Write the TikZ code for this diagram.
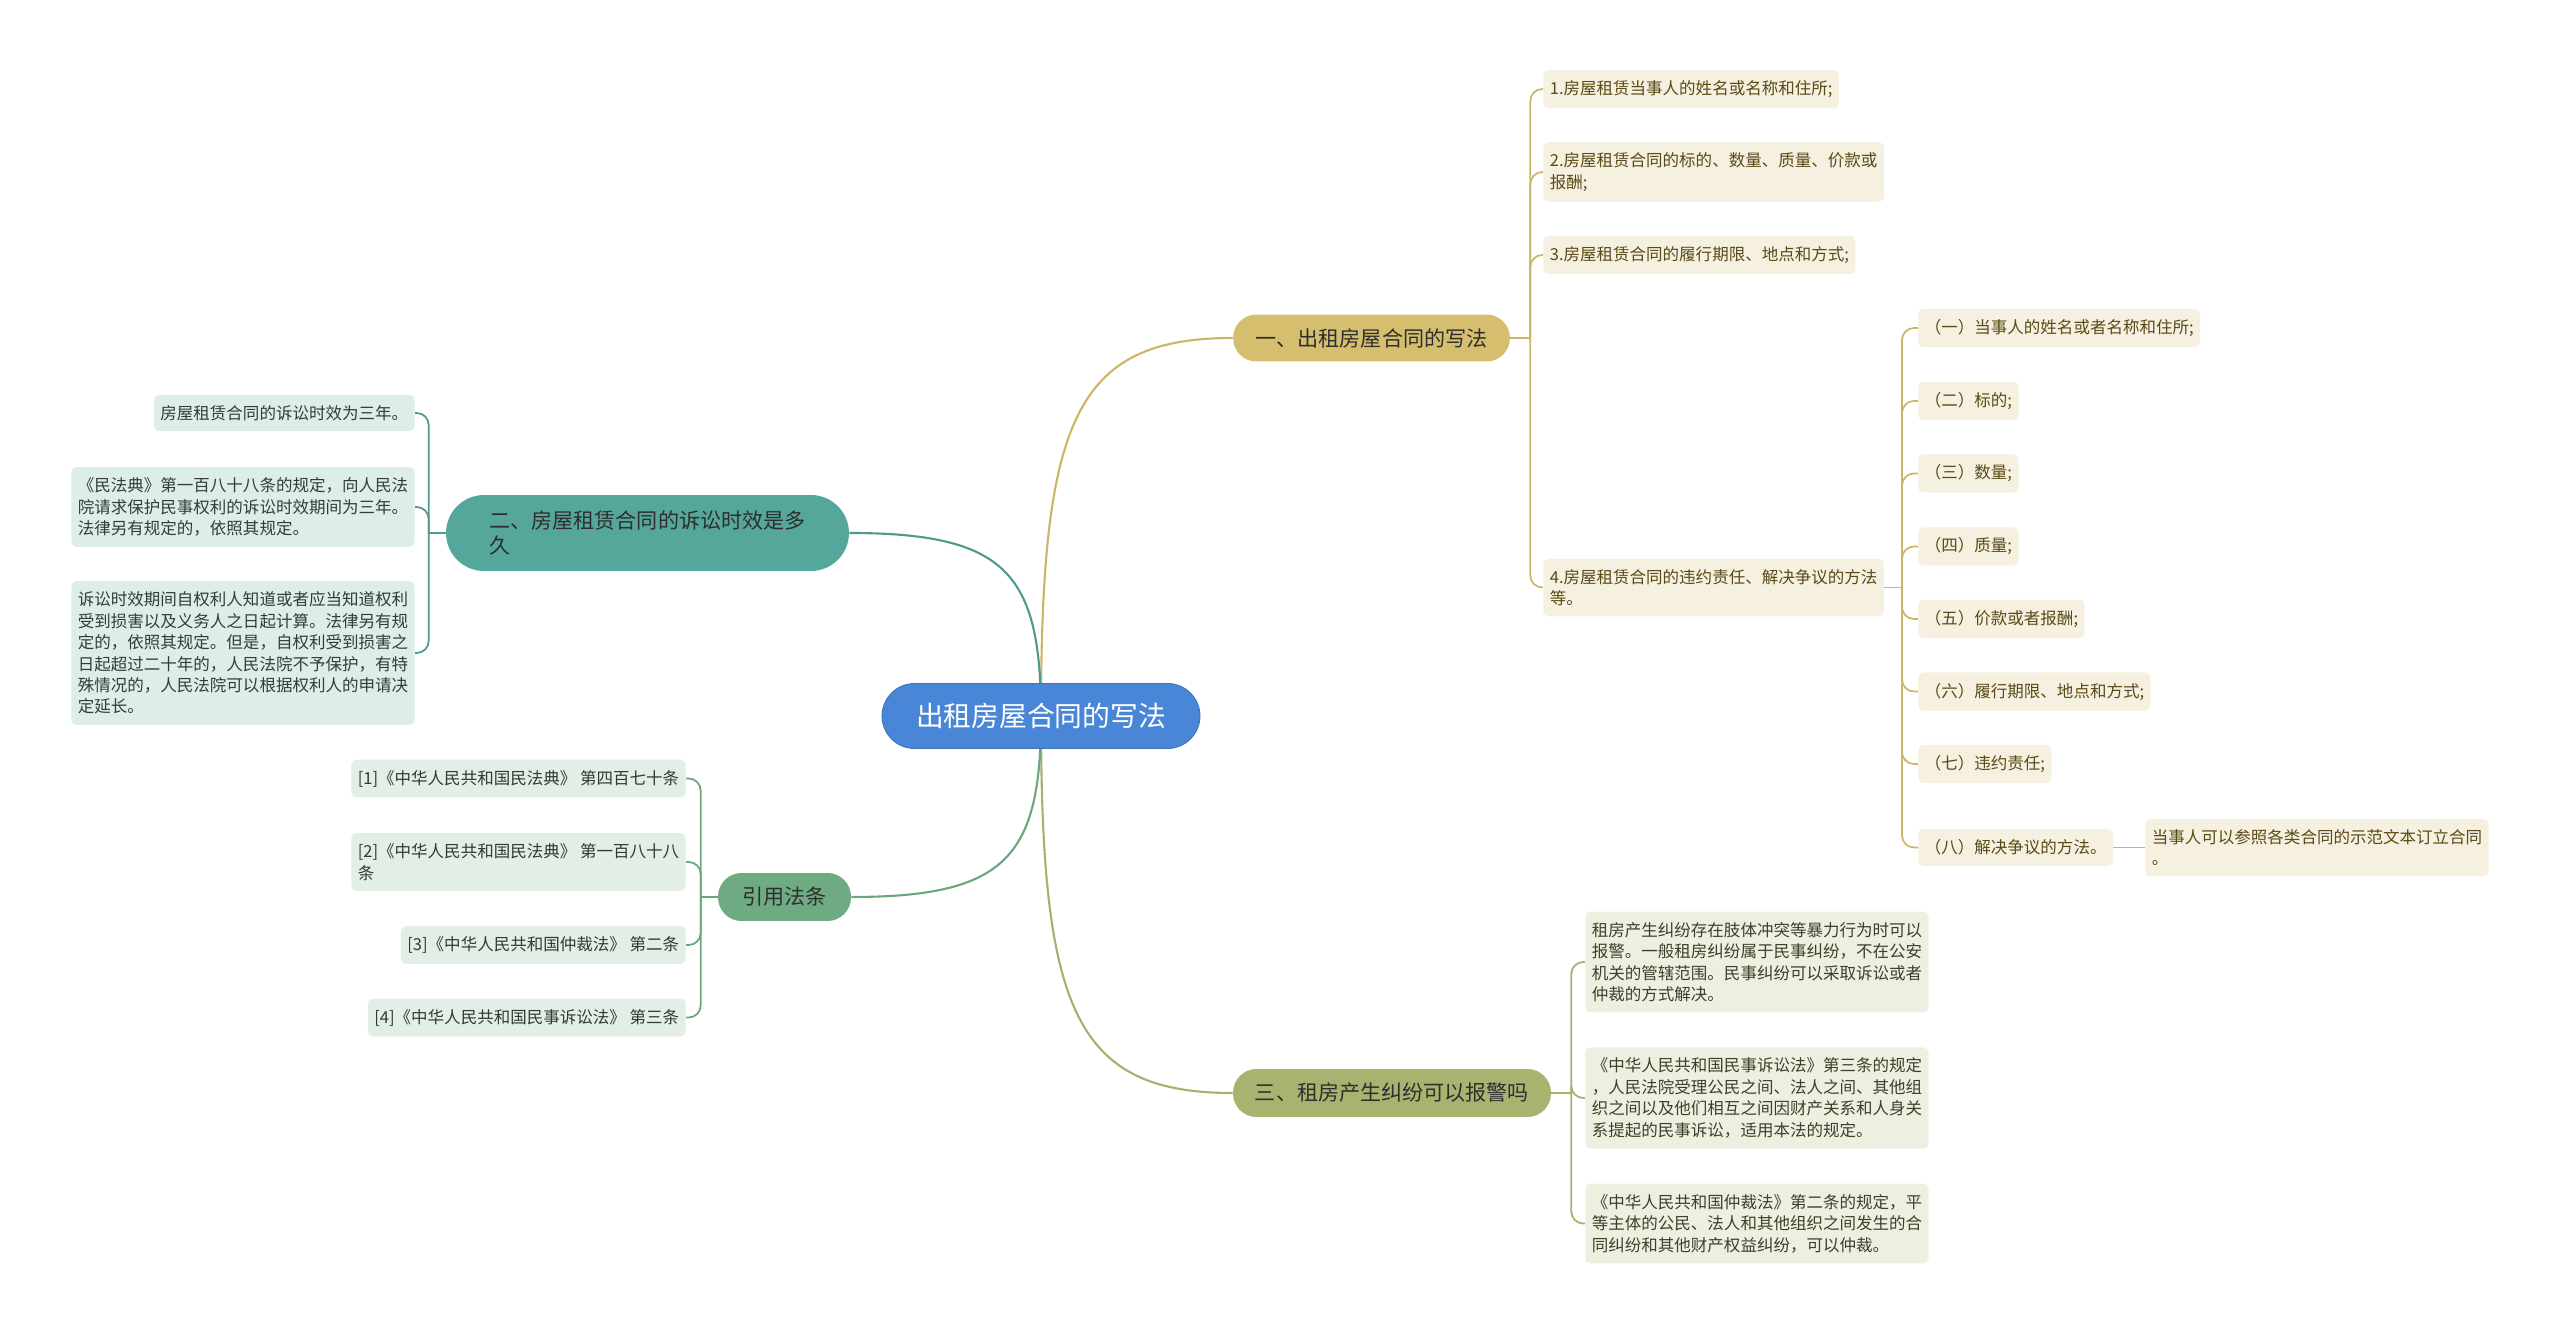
\documentclass[tikz,border=0pt]{standalone}
\usepackage{fontspec}
\setmainfont{Noto Sans CJK SC}
\usepackage{tikz}
\usetikzlibrary{positioning,backgrounds}

\definecolor{rootblue}{HTML}{4A86D8}
\definecolor{goldtopic}{HTML}{D5BE6E}
\definecolor{goldline}{HTML}{CDB568}
\definecolor{goldpale}{HTML}{F5F0DF}
\definecolor{goldtext}{HTML}{5A4A17}
\definecolor{tealtopic}{HTML}{55A69B}
\definecolor{tealline}{HTML}{4E9A8F}
\definecolor{tealpale}{HTML}{DDEDEA}
\definecolor{tealtext}{HTML}{2F3E3B}
\definecolor{olivetopic}{HTML}{A8B370}
\definecolor{oliveline}{HTML}{A6B16D}
\definecolor{olivepale}{HTML}{EDF0E1}
\definecolor{olivetext}{HTML}{3B4127}
\definecolor{greentopic}{HTML}{6FAB82}
\definecolor{greenline}{HTML}{6BA67E}
\definecolor{greenpale}{HTML}{E2EEE6}
\definecolor{greentext}{HTML}{2F3A33}

\begin{document}
\begin{tikzpicture}[
    x=0.02cm, y=-0.02cm,
    root/.style={rectangle, fill=rootblue, draw=rootblue!85!black, line width=0.5pt, rounded corners=0.65cm, minimum width=6.36cm, minimum height=1.3cm, text=white, font=\fontsize{15.8}{19}\selectfont},
    topic/.style={rectangle, rounded corners=0.47cm, minimum height=0.94cm, align=left, text=black!82, font=\fontsize{12}{14.2}\selectfont},
    leaf/.style={rectangle, rounded corners=0.1cm, minimum height=0.72cm, inner xsep=0.13cm, inner ysep=0.21cm, align=left, font=\fontsize{9.4}{12.2}\selectfont},
    goldleaf/.style={leaf, fill=goldpale, text=goldtext},
    tealleaf/.style={leaf, fill=tealpale, text=tealtext},
    oliveleaf/.style={leaf, fill=olivepale, text=olivetext},
    greenleaf/.style={leaf, fill=greenpale, text=greentext},
    link/.style={line width=1.2pt},
    bracket/.style={line width=1.0pt, rounded corners=0.24cm}
]

\useasboundingbox (0,0) rectangle (2560,1334);

% Root
\node[root] (root) at (1041,716) {出租房屋合同的写法};

% Main topics
\node[topic, fill=goldtopic, minimum width=5.54cm] (write) at (1371.5,338) {一、出租房屋合同的写法};
\node[topic, fill=tealtopic, minimum width=8.06cm, minimum height=1.52cm, rounded corners=0.76cm] (term) at (647.5,533) {二、房屋租赁合同的诉讼时效是多\\久};
\node[topic, fill=olivetopic, minimum width=6.36cm, minimum height=0.96cm] (police) at (1392,1093) {三、租房产生纠纷可以报警吗};
\node[topic, fill=greentopic, minimum width=2.66cm, minimum height=0.96cm] (cite) at (784.5,897) {引用法条};

% Topic one: contract items
\node[goldleaf, anchor=west] (w1) at (1543,89) {1.房屋租赁当事人的姓名或名称和住所;};
\node[goldleaf, anchor=west] (w2) at (1543,172) {2.房屋租赁合同的标的、数量、质量、价款或\\报酬;};
\node[goldleaf, anchor=west] (w3) at (1543,255) {3.房屋租赁合同的履行期限、地点和方式;};
\node[goldleaf, anchor=west] (w4) at (1543,587.5) {4.房屋租赁合同的违约责任、解决争议的方法\\等。};

% Sub items of item 4
\node[goldleaf, anchor=west] (s1) at (1918,328) {（一）当事人的姓名或者名称和住所;};
\node[goldleaf, anchor=west] (s2) at (1918,401) {（二）标的;};
\node[goldleaf, anchor=west] (s3) at (1918,473.5) {（三）数量;};
\node[goldleaf, anchor=west] (s4) at (1918,546.5) {（四）质量;};
\node[goldleaf, anchor=west] (s5) at (1918,619) {（五）价款或者报酬;};
\node[goldleaf, anchor=west] (s6) at (1918,691.5) {（六）履行期限、地点和方式;};
\node[goldleaf, anchor=west] (s7) at (1918,764) {（七）违约责任;};
\node[goldleaf, anchor=west] (s8) at (1918,847.5) {（八）解决争议的方法。};
\node[goldleaf, anchor=west] (s8n) at (2145,847.5) {当事人可以参照各类合同的示范文本订立合同\\。};

% Topic two: limitation period
\node[tealleaf, anchor=east] (t1) at (415,413) {房屋租赁合同的诉讼时效为三年。};
\node[tealleaf, anchor=east] (t2) at (415,507) {《民法典》第一百八十八条的规定，向人民法\\院请求保护民事权利的诉讼时效期间为三年。\\法律另有规定的，依照其规定。};
\node[tealleaf, anchor=east] (t3) at (415,653) {诉讼时效期间自权利人知道或者应当知道权利\\受到损害以及义务人之日起计算。法律另有规\\定的，依照其规定。但是，自权利受到损害之\\日起超过二十年的，人民法院不予保护，有特\\殊情况的，人民法院可以根据权利人的申请决\\定延长。};

% Topic three: disputes and police
\node[oliveleaf, anchor=west] (p1) at (1585,962) {租房产生纠纷存在肢体冲突等暴力行为时可以\\报警。一般租房纠纷属于民事纠纷，不在公安\\机关的管辖范围。民事纠纷可以采取诉讼或者\\仲裁的方式解决。};
\node[oliveleaf, anchor=west] (p2) at (1585,1098) {《中华人民共和国民事诉讼法》第三条的规定\\，人民法院受理公民之间、法人之间、其他组\\织之间以及他们相互之间因财产关系和人身关\\系提起的民事诉讼，适用本法的规定。};
\node[oliveleaf, anchor=west] (p3) at (1585,1223.5) {《中华人民共和国仲裁法》第二条的规定，平\\等主体的公民、法人和其他组织之间发生的合\\同纠纷和其他财产权益纠纷，可以仲裁。};

% Topic four: cited articles
\node[greenleaf, anchor=east] (c1) at (686,778.5) {[1]《中华人民共和国民法典》 第四百七十条};
\node[greenleaf, anchor=east] (c2) at (686,862) {[2]《中华人民共和国民法典》 第一百八十八\\条};
\node[greenleaf, anchor=east] (c3) at (686,945) {[3]《中华人民共和国仲裁法》 第二条};
\node[greenleaf, anchor=east] (c4) at (686,1017.5) {[4]《中华人民共和国民事诉讼法》 第三条};

\begin{scope}[on background layer]
% Root to topics
\draw[link, goldline] (root.center) .. controls +(0,-296) and +(-158,0) .. (write.west);
\draw[link, tealline] (root.center) .. controls +(0,-143) and +(157,0) .. (term.east);
\draw[link, oliveline] (root.center) .. controls +(0,294) and +(-158,0) .. (police.west);
\draw[link, greenline] (root.center) .. controls +(0,141) and +(155,0) .. (cite.east);

% Topic one brackets
\draw[bracket, goldline] (write.east) -- ++(20,0) coordinate (wbus);
\draw[bracket, goldline] (wbus) |- (w1.west);
\draw[bracket, goldline] (wbus) |- (w2.west);
\draw[bracket, goldline] (wbus) |- (w3.west);
\draw[bracket, goldline] (wbus) |- (w4.west);

\coordinate (sbus) at (1902,587.5);
\draw[bracket, goldline] (w4.east) -- (sbus);
\draw[bracket, goldline] (sbus) |- (s1.west);
\draw[bracket, goldline] (sbus) |- (s2.west);
\draw[bracket, goldline] (sbus) |- (s3.west);
\draw[bracket, goldline] (sbus) |- (s4.west);
\draw[bracket, goldline] (sbus) |- (s5.west);
\draw[bracket, goldline] (sbus) |- (s6.west);
\draw[bracket, goldline] (sbus) |- (s7.west);
\draw[bracket, goldline] (sbus) |- (s8.west);
\draw[bracket, goldline] (s8.east) -- (s8n.west);

% Topic two brackets
\draw[bracket, tealline] (term.west) -- ++(-17,0) coordinate (tbus);
\draw[bracket, tealline] (tbus) |- (t1.east);
\draw[bracket, tealline] (tbus) |- (t2.east);
\draw[bracket, tealline] (tbus) |- (t3.east);

% Topic three brackets
\draw[bracket, oliveline] (police.east) -- ++(20,0) coordinate (pbus);
\draw[bracket, oliveline] (pbus) |- (p1.west);
\draw[bracket, oliveline] (pbus) |- (p2.west);
\draw[bracket, oliveline] (pbus) |- (p3.west);

% Topic four brackets
\draw[bracket, greenline] (cite.west) -- ++(-17,0) coordinate (cbus);
\draw[bracket, greenline] (cbus) |- (c1.east);
\draw[bracket, greenline] (cbus) |- (c2.east);
\draw[bracket, greenline] (cbus) |- (c3.east);
\draw[bracket, greenline] (cbus) |- (c4.east);
\end{scope}

\end{tikzpicture}
\end{document}
